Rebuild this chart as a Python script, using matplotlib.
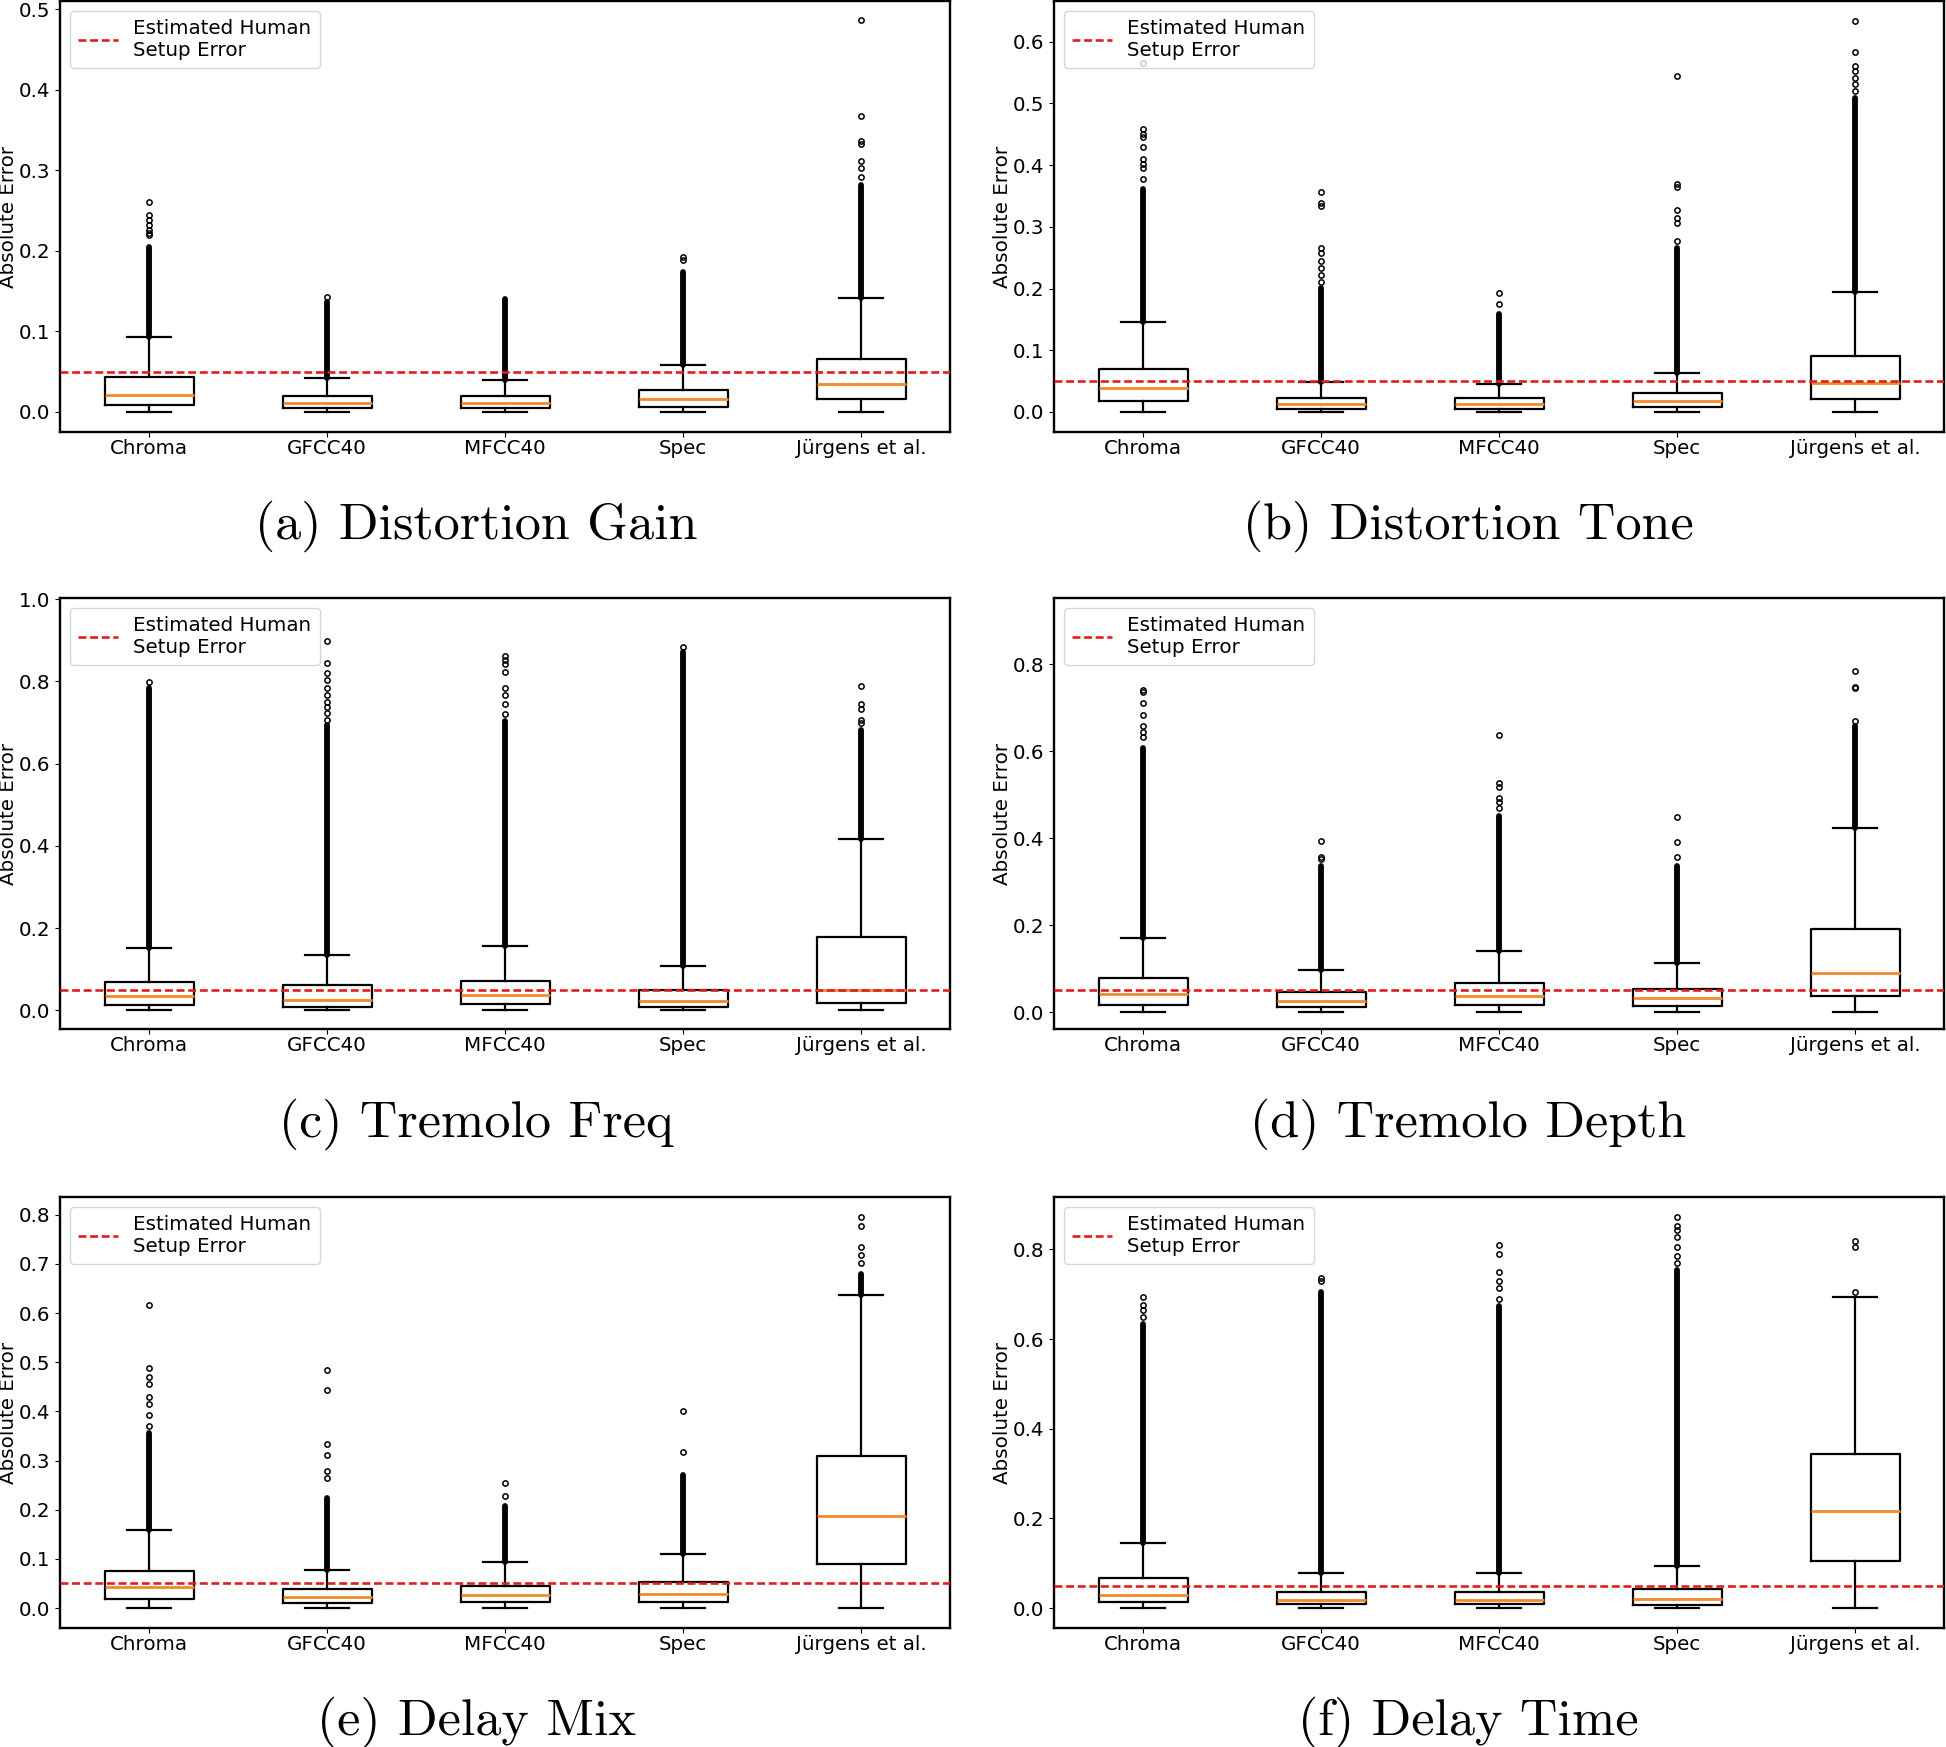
import numpy as np
import matplotlib
matplotlib.use('Agg')
import matplotlib.pyplot as plt

labels = ['Chroma', 'GFCC40', 'MFCC40', 'Spec', 'Jürgens et al.']
human_err = 0.05

# (a) distortion gain
gain_q1 = [0.009, 0.0044, 0.0044, 0.006, 0.0164]
gain_med = [0.021, 0.0107, 0.011, 0.0156, 0.035]
gain_q3 = [0.043, 0.020, 0.0196, 0.027, 0.066]
gain_hi = [0.093, 0.042, 0.040, 0.058, 0.141]
gain_dense = [0.205, 0.136, 0.140, 0.173, 0.281]
gain_out = [[0.219, 0.222, 0.226, 0.232, 0.238, 0.244, 0.261],
            [0.143], [],
            [0.188, 0.192],
            [0.292, 0.303, 0.311, 0.333, 0.336, 0.367, 0.486]]

# (b) distortion tone
tone_q1 = [0.0174, 0.005, 0.005, 0.008, 0.0203]
tone_med = [0.038, 0.0128, 0.0128, 0.0174, 0.0464]
tone_q3 = [0.0697, 0.0226, 0.022, 0.030, 0.0905]
tone_hi = [0.145, 0.0488, 0.046, 0.063, 0.194]
tone_dense = [0.361, 0.201, 0.158, 0.265, 0.509]
tone_out = [[0.378, 0.396, 0.402, 0.41, 0.429, 0.445, 0.45, 0.458, 0.565],
            [0.211, 0.222, 0.233, 0.245, 0.257, 0.266, 0.334, 0.339, 0.356],
            [0.175, 0.193],
            [0.277, 0.306, 0.315, 0.327, 0.364, 0.37, 0.545],
            [0.52, 0.532, 0.541, 0.553, 0.561, 0.584, 0.634]]

# (c) tremolo freq
tfreq_q1 = [0.0139, 0.0096, 0.0157, 0.0087, 0.0183]
tfreq_med = [0.0357, 0.0243, 0.0365, 0.0226, 0.0487]
tfreq_q3 = [0.0696, 0.061, 0.072, 0.0504, 0.179]
tfreq_hi = [0.153, 0.135, 0.157, 0.109, 0.418]
tfreq_dense = [0.785, 0.694, 0.703, 0.872, 0.681]
tfreq_out = [[0.798],
             [0.707, 0.724, 0.737, 0.75, 0.768, 0.785, 0.803, 0.82, 0.846, 0.898],
             [0.72, 0.746, 0.768, 0.785, 0.823, 0.842, 0.853, 0.862],
             [0.885],
             [0.698, 0.707, 0.733, 0.746, 0.79]]

# (d) tremolo depth
tdepth_q1 = [0.0173, 0.0115, 0.0173, 0.0148, 0.0362]
tdepth_med = [0.042, 0.0264, 0.0379, 0.0313, 0.089]
tdepth_q3 = [0.079, 0.0453, 0.066, 0.0535, 0.191]
tdepth_hi = [0.1705, 0.0956, 0.14, 0.1137, 0.424]
tdepth_dense = [0.608, 0.336, 0.451, 0.336, 0.657]
tdepth_out = [[0.633, 0.645, 0.657, 0.682, 0.711, 0.736, 0.741],
              [0.3526, 0.357, 0.394],
              [0.468, 0.484, 0.493, 0.517, 0.527, 0.638],
              [0.357, 0.39, 0.449],
              [0.67, 0.744, 0.748, 0.784]]

# (e) delay mix
dmix_q1 = [0.0192, 0.0096, 0.0118, 0.0133, 0.0906]
dmix_med = [0.0435, 0.022, 0.0273, 0.0295, 0.188]
dmix_q3 = [0.0751, 0.0383, 0.045, 0.053, 0.309]
dmix_hi = [0.158, 0.078, 0.0928, 0.109, 0.636]
dmix_dense = [0.356, 0.223, 0.208, 0.271, 0.68]
dmix_out = [[0.37, 0.393, 0.415, 0.429, 0.455, 0.47, 0.488, 0.617],
            [0.264, 0.278, 0.311, 0.334, 0.444, 0.485],
            [0.227, 0.254],
            [0.317, 0.401],
            [0.702, 0.718, 0.734, 0.778, 0.796]]

# (f) delay time
dtime_q1 = [0.0129, 0.0089, 0.0089, 0.0065, 0.104]
dtime_med = [0.030, 0.0178, 0.0178, 0.0194, 0.216]
dtime_q3 = [0.067, 0.037, 0.0356, 0.042, 0.343]
dtime_hi = [0.146, 0.0792, 0.0776, 0.0937, 0.695]
dtime_dense = [0.633, 0.705, 0.673, 0.754, np.nan]
dtime_out = [[0.649, 0.665, 0.677, 0.693],
             [0.73, 0.736],
             [0.689, 0.714, 0.73, 0.75, 0.79, 0.81],
             [0.77, 0.786, 0.806, 0.827, 0.843, 0.853, 0.873],
             [0.705, 0.806, 0.819]]

titles = ['(a) Distortion Gain', '(b) Distortion Tone', '(c) Tremolo Freq',
          '(d) Tremolo Depth', '(e) Delay Mix', '(f) Delay Time']
ylims = [(-0.025, 0.51), (-0.0325, 0.666), (-0.045, 1.003),
         (-0.039, 0.952), (-0.0405, 0.836), (-0.0444, 0.917)]

panels = [
    (gain_q1, gain_med, gain_q3, gain_hi, gain_dense, gain_out),
    (tone_q1, tone_med, tone_q3, tone_hi, tone_dense, tone_out),
    (tfreq_q1, tfreq_med, tfreq_q3, tfreq_hi, tfreq_dense, tfreq_out),
    (tdepth_q1, tdepth_med, tdepth_q3, tdepth_hi, tdepth_dense, tdepth_out),
    (dmix_q1, dmix_med, dmix_q3, dmix_hi, dmix_dense, dmix_out),
    (dtime_q1, dtime_med, dtime_q3, dtime_hi, dtime_dense, dtime_out),
]

plt.rcParams['font.size'] = 14.3
plt.rcParams['axes.linewidth'] = 1.7
plt.rcParams['xtick.major.pad'] = 1.5

W, H = 1946, 1747
fig = plt.figure(figsize=(W / 100, H / 100), dpi=100)

col_x = [(60, 890), (1054, 890)]
row_top = [1, 598, 1197]
ax_h = 431
cap_x = [476, 1468]
cap_y = [526, 1124, 1722]
ylab_x = [9, 1003]

line_kw = dict(color='k', linewidth=1.6)
for i, (q1, med, q3, hi, dense, out) in enumerate(panels):
    r, c = divmod(i, 2)
    x0, w = col_x[c]
    ax = fig.add_axes([x0 / W, 1 - (row_top[r] + ax_h) / H, w / W, ax_h / H])

    stats = []
    for k in range(len(labels)):
        stats.append(dict(med=med[k], q1=q1[k], q3=q3[k], whislo=0.0,
                          whishi=hi[k], fliers=np.array(out[k]), label=labels[k]))
    pos = np.arange(1, len(labels) + 1)
    ax.bxp(stats, positions=pos, widths=0.5,
           boxprops=line_kw, whiskerprops=line_kw, capprops=line_kw,
           medianprops=dict(color='#f28a2a', linewidth=2.0),
           flierprops=dict(marker='o', markersize=3.8, markerfacecolor='none',
                           markeredgecolor='k', markeredgewidth=1.1))

    # dense runs of outliers drawn as solid columns
    dense = np.array(dense, dtype=float)
    ok = ~np.isnan(dense)
    ax.vlines(pos[ok], np.array(hi)[ok], dense[ok], colors='k',
              linewidth=4.2, capstyle='round', zorder=3)

    ax.axhline(human_err, color='#dd1f1f', linestyle='--', dashes=(3, 1.4),
               linewidth=1.9, label='Estimated Human\nSetup Error', zorder=4)
    ax.set_xlim(0.5, 5.5)
    ax.set_ylim(*ylims[i])
    ylab = ax.set_ylabel('Absolute Error', va='center')
    ax.yaxis.set_label_coords((ylab_x[c] - x0) / w, 0.5)
    ax.legend(loc='upper left', fontsize=14.3)

    fig.text(cap_x[c] / W, 1 - cap_y[r] / H, titles[i], fontname='cmr10',
             fontsize=37.5, ha='center', va='center')

fig.savefig('out.png', dpi=100)
